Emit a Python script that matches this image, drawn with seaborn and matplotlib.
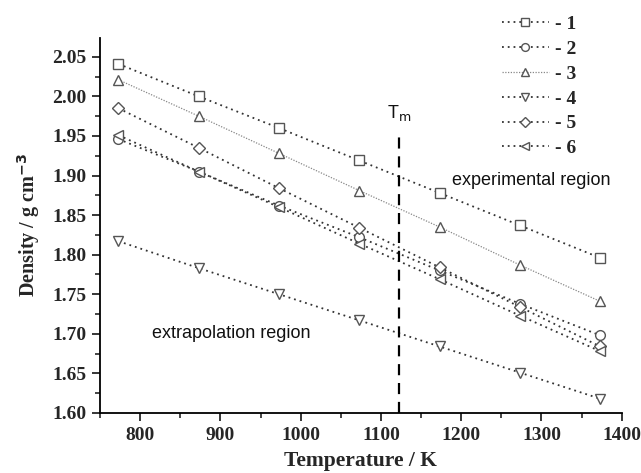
import matplotlib
matplotlib.use("Agg")
import matplotlib.pyplot as plt
import seaborn as sns
import pandas as pd
from matplotlib.ticker import MultipleLocator

temperature = [773, 873, 973, 1073, 1173, 1273, 1373]
d1 = [2.041, 2.000, 1.960, 1.919, 1.878, 1.837, 1.796]
d2 = [1.946, 1.905, 1.862, 1.822, 1.780, 1.738, 1.698]
d3 = [2.021, 1.975, 1.928, 1.881, 1.835, 1.787, 1.741]
d4 = [1.817, 1.783, 1.750, 1.717, 1.684, 1.651, 1.618]
d5 = [1.985, 1.935, 1.884, 1.834, 1.784, 1.734, 1.684]
d6 = [1.951, 1.905, 1.860, 1.814, 1.769, 1.723, 1.678]
series_names = ["1", "2", "3", "4", "5", "6"]
series_values = [d1, d2, d3, d4, d5, d6]
markers = ["s", "o", "^", "v", "D", "<"]
tm = 1123

sns.set_theme(style="ticks")
plt.rcParams["font.family"] = ["Liberation Serif", "DejaVu Serif"]

fig = plt.figure(figsize=(6.41, 4.73), dpi=100)
ax = fig.add_axes([0.156, 0.127, 0.814, 0.793])

rows = []
for name, vals in zip(series_names, series_values):
    for t, v in zip(temperature, vals):
        rows.append({"T": t, "rho": v, "series": name})
df = pd.DataFrame(rows)

handles = []
for name, mk in zip(series_names, markers):
    sub = df[df["series"] == name]
    if name == "3":
        ls = (0, (1, 1.2)); lw = 0.9; lc = "#888888"
    else:
        ls = (0, (1, 2.2)); lw = 1.3; lc = "#333333"
    ms = 5.8 if mk == "D" else 7
    sns.lineplot(data=sub, x="T", y="rho", ax=ax, color=lc, linestyle=ls, linewidth=lw,
                 marker=mk, markersize=ms, markerfacecolor="white",
                 markeredgecolor="#555555", markeredgewidth=1.0, label="- " + name,
                 legend=False)
    handles.append(ax.lines[-1])

ax.axvline(tm, ymin=0, ymax=(1.950 - 1.60) / (2.074 - 1.60), color="black",
           linestyle=(0, (5, 3.5)), linewidth=1.6)
ax.text(tm, 1.966, r"T$_{\rm m}$", ha="center", va="bottom", fontsize=13,
        family="Liberation Sans", color="#111111")
ax.text(1188, 1.894, "experimental region", ha="left", va="center", fontsize=13,
        family="Liberation Sans", color="#111111")
ax.text(815, 1.701, "extrapolation region", ha="left", va="center", fontsize=13,
        family="Liberation Sans", color="#111111")

ax.set_xlim(750, 1400)
ax.set_ylim(1.60, 2.074)
ax.xaxis.set_major_locator(MultipleLocator(100))
ax.xaxis.set_minor_locator(MultipleLocator(50))
ax.yaxis.set_major_locator(MultipleLocator(0.05))
ax.yaxis.set_minor_locator(MultipleLocator(0.025))
ax.yaxis.set_major_formatter(matplotlib.ticker.FormatStrFormatter("%.2f"))
ax.tick_params(which="major", direction="out", length=6, width=1.3, labelsize=14, pad=4)
ax.tick_params(which="minor", direction="out", length=3.5, width=1.2)
for lab in ax.get_xticklabels() + ax.get_yticklabels():
    lab.set_fontweight("bold")
for side in ["top", "right"]:
    ax.spines[side].set_visible(False)
for side in ["left", "bottom"]:
    ax.spines[side].set_linewidth(1.3)
    ax.spines[side].set_color("black")

ax.set_xlabel("Temperature / K", fontsize=15.5, fontweight="bold", labelpad=5)
ax.set_ylabel(r"Density / g cm$^{\mathbf{-3}}$", fontsize=14.5, fontweight="bold", labelpad=7)

leg = fig.legend(handles=handles, labels=["- " + n for n in series_names],
                 loc="upper left", bbox_to_anchor=(0.783, 0.967), frameon=False,
                 borderpad=0, borderaxespad=0, markerscale=0.8,
                 handlelength=2.4, handletextpad=0.35, labelspacing=0.37,
                 prop={"family": "Liberation Serif", "weight": "bold", "size": 14})

fig.savefig("out.png", dpi=100)
